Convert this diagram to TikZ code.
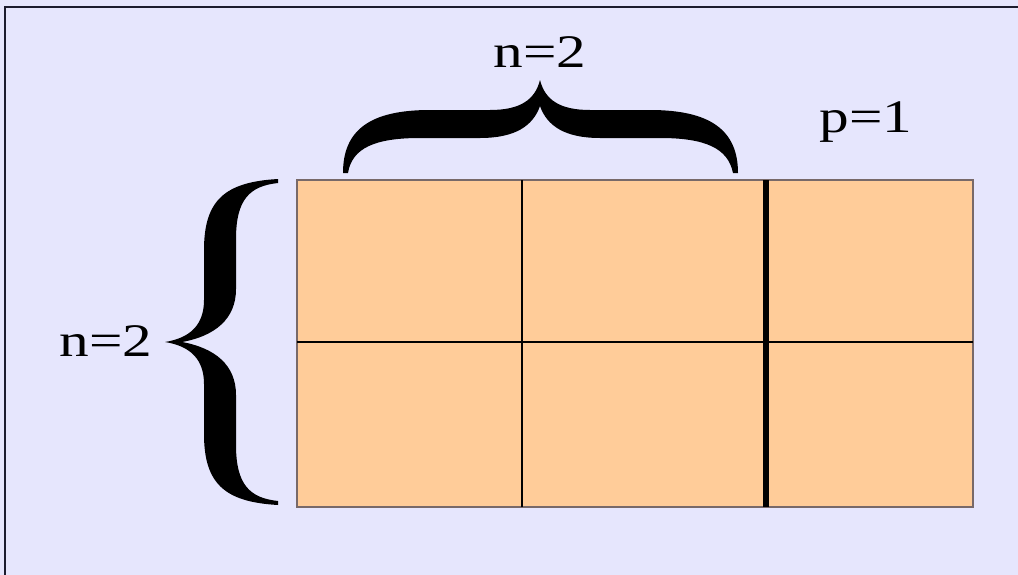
\documentclass[tikz,border=0pt]{standalone}
\usepackage{fontspec}
\setmainfont{Liberation Serif}
\usepackage{tikz}

\definecolor{slidebg}{RGB}{230,230,253}
\definecolor{cellfill}{RGB}{255,204,153}
\definecolor{gridedge}{RGB}{120,105,105}
\definecolor{frameline}{RGB}{28,28,46}

\begin{document}
\begin{tikzpicture}[x=0.75pt,y=-0.75pt,lbl/.style={anchor=base,inner sep=0pt,font=\fontsize{35}{40}\selectfont},brc/.style={fill=black,draw=none}]
\useasboundingbox (0,0) rectangle (1018,575);
\fill[slidebg] (0,0) rectangle (1018,575);
\draw[frameline,line width=1.5pt] (5,575) -- (5,6.5) -- (1018,6.5);
% the 2x3 block
\fill[cellfill] (297,180) rectangle (973,507);
\draw[gridedge,line width=0.9pt] (297,180) rectangle (973,507);
\draw[line width=1.1pt] (297,342) -- (973,342);
\draw[line width=1.1pt] (522,180) -- (522,507);
\draw[line width=4.5pt] (766,180) -- (766,507);
% braces
\fill[brc] (343,173) .. controls (343,130) and (370,110) .. (430,110) -- (490,110)
   .. controls (520,110) and (535,100) .. (540,80) .. controls (545,100) and (560,110) .. (590,110)
   -- (650,110) .. controls (710,110) and (738,130) .. (738,173) -- (733,173)
   .. controls (728,148) and (705,138) .. (660,138) -- (600,138)
   .. controls (565,138) and (547,126) .. (540,106) .. controls (533,126) and (515,138) .. (480,138)
   -- (420,138) .. controls (375,138) and (352,148) .. (348,173) -- cycle;
\fill[brc] (278,179) .. controls (225,182) and (204,200) .. (204,250) -- (204,300)
   .. controls (204,325) and (190,338) .. (165,342) .. controls (190,346) and (204,359) .. (204,384)
   -- (204,434) .. controls (204,484) and (225,502) .. (278,505) -- (278,501)
   .. controls (250,498) and (236,485) .. (236,445) -- (236,395)
   .. controls (236,365) and (215,348) .. (182,342) .. controls (215,336) and (236,319) .. (236,289)
   -- (236,239) .. controls (236,199) and (250,186) .. (278,183) -- cycle;
% labels
\node[lbl] (ntop) at (540,67) {\scalebox{1.27}[1]{n=2}};
\node[lbl] (nleft) at (106,356) {\scalebox{1.27}[1]{n=2}};
\node[lbl] (pone) at (866,132) {\scalebox{1.27}[1]{p=1}};
\end{tikzpicture}
\end{document}
